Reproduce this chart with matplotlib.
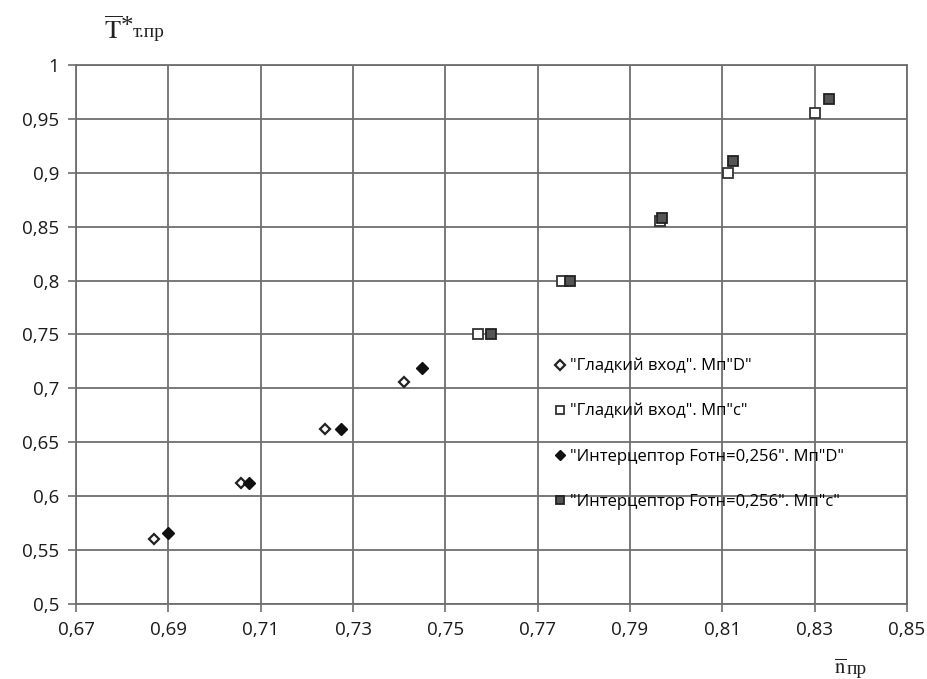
import matplotlib
matplotlib.use("Agg")
import matplotlib.pyplot as plt
from matplotlib.ticker import FixedLocator, FuncFormatter

plt.rcParams['font.family'] = ['Open Sans', 'DejaVu Sans']
plt.rcParams['mathtext.fontset'] = 'stix'

# data
smooth_d_x = [0.6868, 0.7058, 0.7239, 0.7410]
smooth_d_y = [0.560, 0.612, 0.662, 0.706]
smooth_c_x = [0.7570, 0.7753, 0.7965, 0.8112, 0.8300]
smooth_c_y = [0.750, 0.800, 0.855, 0.900, 0.955]
interc_d_x = [0.6900, 0.7074, 0.7275, 0.7450]
interc_d_y = [0.566, 0.612, 0.662, 0.719]
interc_c_x = [0.7599, 0.7771, 0.7970, 0.8124, 0.8331]
interc_c_y = [0.750, 0.800, 0.858, 0.911, 0.968]

labels = ['"Гладкий вход". Mп"D"',
          '"Гладкий вход". Mп"c"',
          '"Интерцептор Fотн=0,256". Mп"D"',
          '"Интерцептор Fотн=0,256". Mп"c"']

x_ticks = [0.67, 0.69, 0.71, 0.73, 0.75, 0.77, 0.79, 0.81, 0.83, 0.85]
y_ticks = [0.5, 0.55, 0.6, 0.65, 0.7, 0.75, 0.8, 0.85, 0.9, 0.95, 1.0]

grid_col = '#6e6e6e'

fig = plt.figure(figsize=(9.27, 6.79), dpi=100)
ax = fig.add_axes([0.082, 0.1105, 0.8964, 0.7938])

ax.plot(smooth_d_x, smooth_d_y, 'D', ls='none', ms=5.5, mfc='white', mec='#222222', mew=1.6, label=labels[0])
ax.plot(smooth_c_x, smooth_c_y, 's', ls='none', ms=6.8, mfc='white', mec='#333333', mew=1.3, label=labels[1])
ax.plot(interc_d_x, interc_d_y, 'D', ls='none', ms=6, mfc='#111111', mec='#111111', mew=1, label=labels[2])
ax.plot(interc_c_x, interc_c_y, 's', ls='none', ms=6.8, mfc='#555555', mec='#222222', mew=1.3, label=labels[3])

ax.set_xlim(0.67, 0.85)
ax.set_ylim(0.5, 1.0)
ax.xaxis.set_major_locator(FixedLocator(x_ticks))
ax.yaxis.set_major_locator(FixedLocator(y_ticks))
fmt = FuncFormatter(lambda v, p: ('%g' % round(v, 2)).replace('.', ','))
ax.xaxis.set_major_formatter(fmt)
ax.yaxis.set_major_formatter(fmt)

ax.grid(True, color=grid_col, lw=1.3)
ax.set_axisbelow(True)
for s in ax.spines.values():
    s.set_color(grid_col)
    s.set_linewidth(1.3)
ax.tick_params(direction='out', length=6, width=1.2, color=grid_col,
               labelsize=13.5, labelcolor='#1a1a1a', pad=6)

ax.legend(loc='upper left', bbox_to_anchor=(0.588, 0.482), bbox_transform=fig.transFigure,
          frameon=False, fontsize=12, labelspacing=1.75, handletextpad=0.1,
          handlelength=1.0, markerscale=0.85, borderaxespad=0)

# axis titles
fig.text(0.112, 0.943, r'$\overline{\mathrm{T}}$', fontsize=19, color='#222222', va='baseline')
fig.text(0.130, 0.952, '*', fontsize=18, family='Liberation Serif', color='#222222', va='baseline')
fig.text(0.143, 0.946, 'т.пр', fontsize=14, family='Liberation Serif', color='#222222', va='baseline')

fig.text(0.9, 0.008, r'$\overline{\mathrm{n}}$', fontsize=15, color='#222222', va='baseline')
fig.text(0.913, 0.008, 'пр', fontsize=14, family='Liberation Serif', color='#222222', va='baseline')

fig.savefig('out.png', dpi=100, facecolor='white')
